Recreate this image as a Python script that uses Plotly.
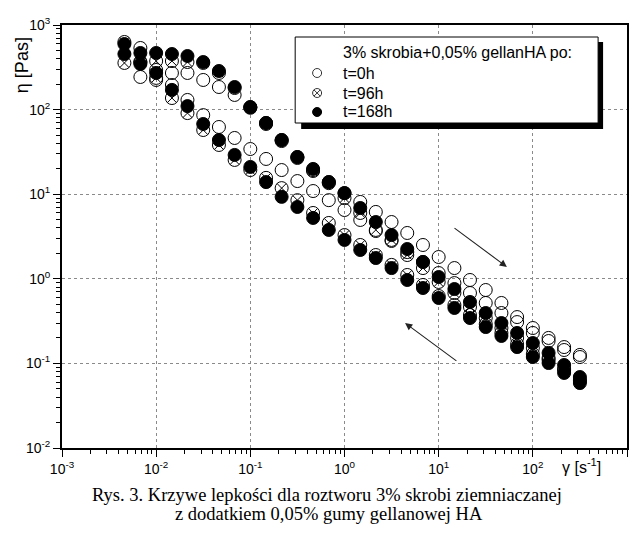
import math
import plotly.graph_objects as go

# shear rate [1/s]
shear = [0.0046, 0.0068, 0.01, 0.0147, 0.0215, 0.0316, 0.0464, 0.0681, 0.1, 0.147,
         0.215, 0.316, 0.464, 0.681, 1.0, 1.47, 2.15, 3.16, 4.64, 6.81,
         10, 14.7, 21.5, 31.6, 46.4, 68.1, 100, 147, 215, 316]

# viscosity [Pas], increasing (up) and decreasing (down) shear sweeps
eta_0h_up = [None, 535, 294, 271, 271, 224, 185, 149, 107, 69.5, 43.7, 27.5, 19.3, 13.9, 10.3,
             8.1, 6.17, 4.69, 3.48, 2.51, 1.81, 1.34, 0.968, 0.737, 0.518, 0.353, 0.262, 0.20, 0.156, 0.126]
eta_0h_down = [None, 243, 224, 195, 130, 86, 62.3, 46.2, 34.2, 26.1, 19.3, 14.3, 10.9, 8.5, 6.5,
               4.96, 3.67, 2.80, 2.07, 1.58, 1.17, 0.89, 0.679, 0.518, 0.394, 0.308, 0.229, 0.184, 0.144, 0.119]
eta_96h_up = [356, 365, 375, 375, 365, 356, 271, 180, 105, 67.6, 42.5, 26.8, 18.8, 13.5, 9.0,
              6.0, 3.78, 2.88, 1.91, 1.34, 0.917, 0.679, 0.464, 0.344, 0.262, 0.20, 0.152, 0.116, 0.0859, 0.0637]
eta_96h_down = [630, 365, 237, 137, 91, 57.4, 38.2, 25.4, 19.3, 15.6, 11.8, 8.5, 6.0, 4.57, 3.29,
                2.51, 1.91, 1.46, 1.11, 0.845, 0.626, 0.49, 0.373, 0.292, 0.229, 0.169, 0.129, 0.11, 0.0836, 0.062]
eta_168h_up = [454, 467, 467, 454, 430, 365, 286, 185, 107, 69.5, 43.7, 27.5, 19.9, 13.9, 10.3,
               6.87, 4.69, 3.29, 2.25, 1.58, 1.05, 0.757, 0.532, 0.394, 0.30, 0.229, 0.174, 0.133, 0.0957, 0.069]
eta_168h_down = [596, 346, 271, 171, 110, 67.6, 43.7, 29.1, 21.0, 13.9, 9.3, 7.06, 5.24, 3.78, 2.88,
                 2.19, 1.76, 1.34, 0.968, 0.778, 0.593, 0.452, 0.344, 0.269, 0.211, 0.156, 0.119, 0.101, 0.0771, 0.0586]

series_names = ["t=0h", "t=96h", "t=168h"]
legend_title = "3% skrobia+0,05% gellanHA po:"

x_tickvals = [1e-3, 1e-2, 1e-1, 1e0, 1e1, 1e2, 1e3]
x_ticktext = ["10<sup>-3</sup>", "10<sup>-2</sup>", "10<sup>-1</sup>", "10<sup>0</sup>",
              "10<sup>1</sup>", "10<sup>2</sup>", "10<sup>3</sup>"]
y_tickvals = [1e-2, 1e-1, 1e0, 1e1, 1e2, 1e3]
y_ticktext = ["10<sup>-2</sup>", "10<sup>-1</sup>", "10<sup>0</sup>", "10<sup>1</sup>",
              "10<sup>2</sup>", "10<sup>3</sup>"]

# arrows (tail -> head) in data units
arrow_up = ((14.2, 4.1), (53, 1.38))
arrow_down = ((16, 0.104), (4.4, 0.30))

caption1 = "Rys. 3. Krzywe lepkości dla roztworu 3% skrobi ziemniaczanej"
caption2 = "z dodatkiem 0,05% gumy gellanowej HA"

SANS = "Liberation Sans, Arial, sans-serif"
SERIF = "Liberation Serif, Times New Roman, serif"

fig = go.Figure()

styles = [
    dict(symbol="circle-open", color="black", line=dict(width=1, color="black")),
    dict(symbol="circle-x-open", color="black", line=dict(width=1, color="black")),
    dict(symbol="circle", color="black", line=dict(width=1, color="black")),
]
data = [(eta_0h_up, eta_0h_down), (eta_96h_up, eta_96h_down), (eta_168h_up, eta_168h_down)]

for name, st, (up, dn) in zip(series_names, styles, data):
    fig.add_trace(go.Scatter(
        x=shear + shear, y=up + dn, mode="markers", name=name, showlegend=False,
        marker=dict(size=13, **st)))

minor_vals = [m * 10 ** k for k in range(-3, 3) for m in range(2, 10)]

axis_common = dict(
    type="log", showline=True, linecolor="black", linewidth=2, mirror=True,
    ticks="outside", ticklen=7, tickwidth=1.2, tickcolor="black",
    showgrid=True, gridcolor="#8a8a8a", griddash="dot", gridwidth=1,
    zeroline=False, tickfont=dict(family=SANS, size=14, color="black"),
)

fig.update_xaxes(range=[-3, 3], tickmode="array", tickvals=x_tickvals, ticktext=x_ticktext,
                 minor=dict(tickmode="array", tickvals=minor_vals, ticks="outside", ticklen=4,
                            tickcolor="black", tickwidth=1, showgrid=False),
                 **axis_common)
fig.update_yaxes(range=[-2, 3], tickmode="array", tickvals=y_tickvals, ticktext=y_ticktext,
                 minor=dict(tickmode="array", tickvals=minor_vals, ticks="outside", ticklen=4,
                            tickcolor="black", tickwidth=1, showgrid=False),
                 **axis_common)

# page has an 8px body margin; figure is sized so the page fits the 642x533 window exactly
OFF = 8
W, H = 642 - 2 * OFF, 533 - 2 * OFF
PL, PR, PT, PB = 62, 629, 25, 448          # plot area in page pixels
L, T = PL - OFF, PT - OFF
R = W - (PR - OFF)
B = H - (PB - OFF)
pw, ph = PR - PL, PB - PT

def px(x):
    return (x - PL) / pw

def py(y):
    return (PB - y) / ph

shapes = [
    # legend shadow
    dict(type="rect", xref="paper", yref="paper", x0=px(302), x1=px(605), y0=py(129), y1=py(42),
         fillcolor="black", line=dict(width=0), layer="above"),
    # legend box
    dict(type="rect", xref="paper", yref="paper", x0=px(296), x1=px(600), y0=py(123), y1=py(37),
         fillcolor="white", line=dict(width=1, color="black"), layer="above"),
]

legend_rows = [73, 93, 112]
sym_x = 318
for name, row in zip(series_names, legend_rows):
    base = dict(xref="paper", yref="paper", xsizemode="pixel", ysizemode="pixel",
                xanchor=px(sym_x), yanchor=py(row), layer="above")
    if name == "t=168h":
        shapes.append(dict(type="circle", x0=-4.5, x1=4.5, y0=-4.5, y1=4.5,
                           fillcolor="black", line=dict(color="black", width=1), **base))
    else:
        shapes.append(dict(type="circle", x0=-4.5, x1=4.5, y0=-4.5, y1=4.5,
                           fillcolor="white", line=dict(color="#333", width=1), **base))
        if name == "t=96h":
            d = 3.2
            shapes.append(dict(type="line", x0=-d, x1=d, y0=-d, y1=d,
                               line=dict(color="#333", width=1), **base))
            shapes.append(dict(type="line", x0=-d, x1=d, y0=d, y1=-d,
                               line=dict(color="#333", width=1), **base))

annotations = [
    dict(text=legend_title, xref="paper", yref="paper", x=px(342), y=py(53), xanchor="left",
         yanchor="middle", showarrow=False, font=dict(family=SANS, size=16, color="black")),
    dict(text="η [Pas]", xref="paper", yref="paper", x=px(22), y=py(65), textangle=-90,
         xanchor="center", yanchor="middle", showarrow=False,
         font=dict(family=SANS, size=18, color="black")),
    dict(text="γ [s<sup>-1</sup>]", xref="paper", yref="paper", x=px(583), y=py(466),
         xanchor="center", yanchor="middle", showarrow=False,
         font=dict(family=SANS, size=16, color="black")),
    dict(text=caption1, xref="paper", yref="paper", x=px(328), y=py(495), xanchor="center",
         yanchor="middle", showarrow=False, font=dict(family=SERIF, size=18.5, color="black")),
    dict(text=caption2, xref="paper", yref="paper", x=px(330), y=py(513.5), xanchor="center",
         yanchor="middle", showarrow=False, font=dict(family=SERIF, size=18.5, color="black")),
]
for name, row in zip(series_names, legend_rows):
    annotations.append(dict(text=name, xref="paper", yref="paper", x=px(342), y=py(row),
                            xanchor="left", yanchor="middle", showarrow=False,
                            font=dict(family=SANS, size=16, color="black")))
for (tx, ty), (hx, hy) in (arrow_up, arrow_down):
    annotations.append(dict(
        x=math.log10(hx), y=math.log10(hy), ax=math.log10(tx), ay=math.log10(ty),
        xref="x", yref="y", axref="x", ayref="y", text="", showarrow=True,
        arrowhead=2, arrowsize=1.3, arrowwidth=1.1, arrowcolor="#222"))

fig.update_layout(
    width=W, height=H, margin=dict(l=L, r=R, t=T, b=B, pad=0),
    paper_bgcolor="white", plot_bgcolor="white",
    shapes=shapes, annotations=annotations, showlegend=False,
)

fig.write_html("out.html")
